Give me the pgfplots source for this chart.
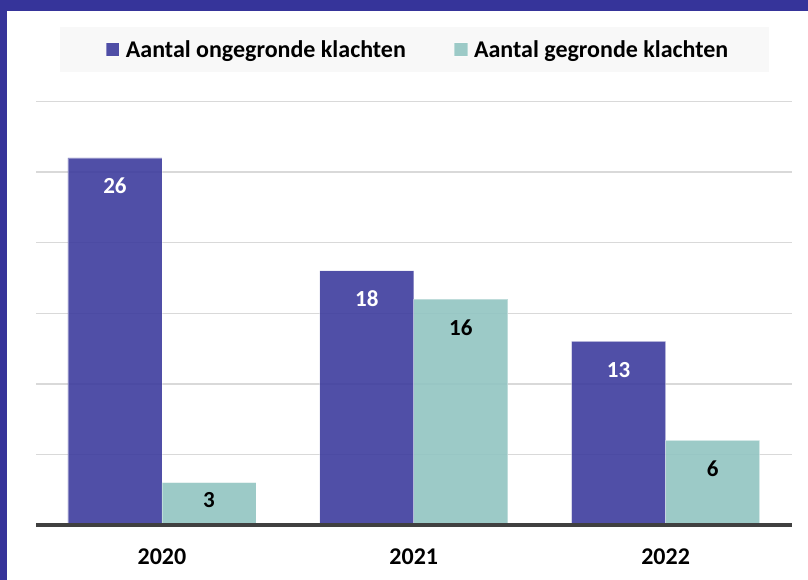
\documentclass[border=0pt]{standalone}
\usepackage{fontspec}
\setmainfont{Carlito}
\usepackage{pgfplots}
\pgfplotsset{compat=1.18}
\definecolor{frame}{HTML}{36349A}
\definecolor{cblue}{HTML}{3D3C9E}
\definecolor{cteal}{HTML}{92C5C2}
\definecolor{legbg}{HTML}{F8F8F8}
\definecolor{gridc}{HTML}{D9D9D9}
\definecolor{basec}{HTML}{404040}
\begin{document}
\begin{tikzpicture}[x=1pt,y=1pt]
\useasboundingbox (0,0) rectangle (808,580);
\fill[white] (0,0) rectangle (808,580);
% legend background
\fill[legbg] (60,508) rectangle (769,553.3);
\begin{axis}[
  at={(36pt,55pt)}, anchor=south west,
  scale only axis, width=755.5pt, height=423.5pt,
  xmin=-0.5, xmax=2.5, ymin=0, ymax=30,
  xtick={0,1,2}, xticklabels={2020,2021,2022},
  ytick={5,10,15,20,25,30}, yticklabels={},
  ymajorgrids, grid style={color=gridc, line width=1.4pt},
  axis line style={draw=none}, tick style={draw=none},
  xticklabel style={font=\bfseries\fontsize{24}{28}\selectfont, text=black, yshift=-20pt},
  legend columns=2,
  legend style={at={(axis description cs:0.5056,1.1228)}, anchor=center,
    draw=none, fill=none, inner sep=0pt,
    font=\bfseries\fontsize{24}{28}\selectfont,
    /tikz/every even column/.append style={column sep=46pt}},
  legend image code/.code={\fill[#1] (0pt,-6.7pt) rectangle (13.4pt,6.7pt); \path (17.4pt,0pt);},
  clip=false,
]
\addplot[ybar, bar width=94pt, bar shift=-47pt, fill=cblue, fill opacity=0.9,
  draw=white, draw opacity=0.35, line width=0.8pt]
  coordinates {(0,26) (1,18) (2,13)};
\addlegendentry{Aantal ongegronde klachten}
\addplot[ybar, bar width=94pt, bar shift=47pt, fill=cteal, fill opacity=0.9,
  draw=white, draw opacity=0.35, line width=0.8pt]
  coordinates {(0,3) (1,16) (2,6)};
\addlegendentry{Aantal gegronde klachten}
% value labels
\addplot[draw=none, mark=none, forget plot, nodes near coords, point meta=explicit symbolic,
  nodes near coords style={anchor=center, xshift=-47pt, text=white,
    font=\bfseries\fontsize{23}{27}\selectfont}]
  coordinates {(0,24.02)[26] (1,16.03)[18] (2,10.98)[13]};
\addplot[draw=none, mark=none, forget plot, nodes near coords, point meta=explicit symbolic,
  nodes near coords style={anchor=center, xshift=47pt, text=black,
    font=\bfseries\fontsize{23}{27}\selectfont}]
  coordinates {(0,1.77)[3] (1,13.95)[16] (2,3.99)[6]};
\draw[basec, line width=4pt, yshift=-0.5pt] (axis cs:-0.5,0) -- (axis cs:2.5,0);
\end{axis}
% frame
\fill[frame] (0,0) rectangle (6.7,580);
\fill[frame] (0,569.3) rectangle (808,580);
\end{tikzpicture}
\end{document}
